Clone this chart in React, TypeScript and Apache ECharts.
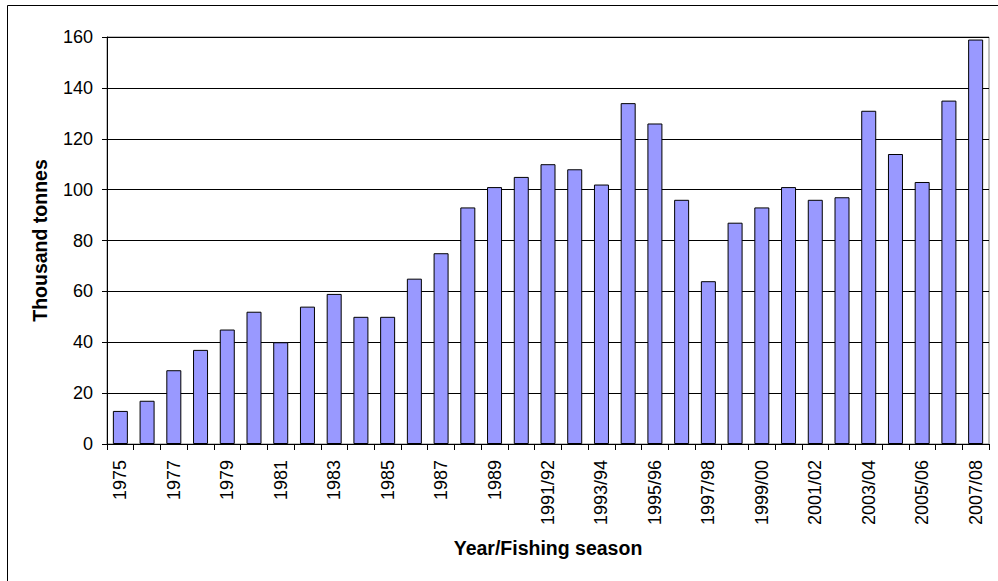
import React, { useEffect, useRef } from "react";
import * as echarts from "echarts";

const categories = [
  "1975", "1976", "1977", "1978", "1979", "1980", "1981", "1982", "1983", "1984",
  "1985", "1986", "1987", "1988", "1989", "1990/91", "1991/92", "1992/93", "1993/94",
  "1994/95", "1995/96", "1996/97", "1997/98", "1998/99", "1999/00", "2000/01",
  "2001/02", "2002/03", "2003/04", "2004/05", "2005/06", "2006/07", "2007/08",
];

const catch_kt = [
  13, 17, 29, 37, 45, 52, 40, 54, 59, 50,
  50, 65, 75, 93, 101, 105, 110, 108, 102,
  134, 126, 96, 64, 87, 93, 101,
  96, 97, 131, 114, 103, 135, 159,
];

const yTicks = { min: 0, max: 160, interval: 20 };

export default function App() {
  const ref = useRef<HTMLDivElement>(null);
  useEffect(() => {
    if (!ref.current) return;
    const chart = echarts.init(ref.current, null, { renderer: "svg" });
    const font = "Liberation Sans, Arial, sans-serif";
    chart.setOption({
      animation: false,
      backgroundColor: "#ffffff",
      graphic: [
        {
          type: "rect",
          shape: { x: 7.5, y: 5.5, width: 1000, height: 600 },
          style: { fill: "none", stroke: "#000", lineWidth: 1 },
          silent: true,
          z: 0,
        },
      ],
      grid: {
        left: 107,
        right: 9,
        top: 37,
        bottom: 137,
        show: true,
        borderColor: "#808080",
        borderWidth: 1,
        backgroundColor: "transparent",
      },
      xAxis: {
        type: "category",
        data: categories,
        boundaryGap: true,
        name: "Year/Fishing season",
        nameLocation: "middle",
        nameGap: 94,
        nameTextStyle: { fontFamily: font, fontSize: 19.5, fontWeight: "bold", color: "#000" },
        axisLine: { show: true, lineStyle: { color: "#000", width: 1 } },
        axisTick: { show: true, length: 6, alignWithLabel: false, interval: 0, lineStyle: { color: "#000" } },
        axisLabel: {
          interval: 1,
          rotate: 90,
          margin: 16,
          fontFamily: font,
          fontSize: 18,
          color: "#000",
        },
        splitLine: { show: false },
      },
      yAxis: {
        type: "value",
        min: yTicks.min,
        max: yTicks.max,
        interval: yTicks.interval,
        name: "Thousand tonnes",
        nameLocation: "middle",
        nameGap: 57,
        nameRotate: 90,
        nameTextStyle: { fontFamily: font, fontSize: 19.5, fontWeight: "bold", color: "#000" },
        axisLine: { show: true, lineStyle: { color: "#000", width: 1 } },
        axisTick: { show: true, length: 5, lineStyle: { color: "#000" } },
        axisLabel: { fontFamily: font, fontSize: 18, color: "#000", margin: 14 },
        splitLine: { show: true, lineStyle: { color: "#000", width: 1 } },
      },
      series: [
        {
          type: "bar",
          data: catch_kt,
          barWidth: 15,
          itemStyle: { color: "#9999FF", borderColor: "#000", borderWidth: 1 },
        },
      ],
    });
    return () => chart.dispose();
  }, []);
  return (
    <div
      ref={ref}
      style={{ position: "fixed", left: 0, top: 0, width: 998, height: 581 }}
    />
  );
}
